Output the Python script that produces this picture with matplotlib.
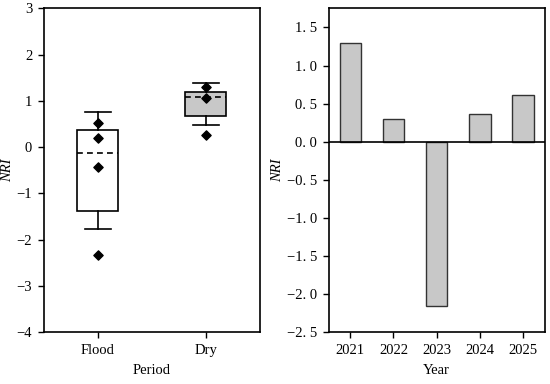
import numpy as np
import matplotlib
matplotlib.use("Agg")
import matplotlib.pyplot as plt
from matplotlib.ticker import FuncFormatter

plt.rcParams['font.family'] = ['Liberation Serif', 'DejaVu Serif']
plt.rcParams['font.size'] = 10.5
plt.rcParams['axes.unicode_minus'] = True

# left panel: box plot by period
periods = ['Flood', 'Dry']
box_q1 = [-1.38, 0.67]
box_q3 = [0.37, 1.19]
box_whislo = [-1.78, 0.47]
box_whishi = [0.76, 1.39]
box_mean = [-0.12, 1.08]
box_fill = ['white', '#c8c8c8']
points = {
    'Flood': [0.53, 0.19, -0.43, -2.33],
    'Dry': [1.30, 1.07, 0.26],
}

# right panel: NRI per year
years = ['2021', '2022', '2023', '2024', '2025']
nri = [1.30, 0.30, -2.155, 0.37, 0.62]

fig, (ax1, ax2) = plt.subplots(1, 2, figsize=(5.5, 3.84), dpi=100)
fig.subplots_adjust(left=0.08, right=0.99, top=0.978, bottom=0.135, wspace=0.32)

stats = []
for i, name in enumerate(periods):
    stats.append(dict(label=name, q1=box_q1[i], q3=box_q3[i], med=box_mean[i],
                      mean=box_mean[i], whislo=box_whislo[i], whishi=box_whishi[i],
                      fliers=[]))
pos = np.arange(1, len(periods) + 1)
bp = ax1.bxp(stats, positions=pos, widths=0.38, patch_artist=True,
             showmeans=True, meanline=True, showfliers=False,
             boxprops=dict(edgecolor='black', linewidth=1.2),
             whiskerprops=dict(color='black', linewidth=1.2),
             capprops=dict(color='black', linewidth=1.2),
             medianprops=dict(linewidth=0),
             meanprops=dict(color='black', linestyle=(0, (3.5, 2.5)), linewidth=1.2),
             capwidths=0.24)
for patch, c in zip(bp['boxes'], box_fill):
    patch.set_facecolor(c)
for p, name in zip(pos, periods):
    vals = points[name]
    ax1.scatter([p] * len(vals), vals, marker='D', s=22, color='black', zorder=5)

ax1.set_xlim(0.5, 2.5)
ax1.set_ylim(-4, 3)
ax1.set_yticks(range(-4, 4))
ax1.set_xticks(pos)
ax1.set_xticklabels(periods)
ax1.set_xlabel('Period', labelpad=5)
ax1.set_ylabel('NRI', style='italic', labelpad=2)
ax1.tick_params(direction='out', length=4, width=1, pad=4.5)

x = np.arange(len(years))
ax2.bar(x, nri, width=0.5, color='#c8c8c8', edgecolor='#333333', linewidth=1)
ax2.axhline(0, color='black', linewidth=1.2)
ax2.set_xlim(-0.5, len(years) - 0.5)
ax2.set_ylim(-2.5, 1.75)
ax2.set_yticks(np.arange(-2.5, 1.51, 0.5))
ax2.yaxis.set_major_formatter(FuncFormatter(lambda v, _: ('%.1f' % v).replace('-', '\u2212').replace('.', '. ')))
ax2.set_xticks(x)
ax2.set_xticklabels(years)
ax2.set_xlabel('Year', labelpad=5)
ax2.set_ylabel('NRI', style='italic', labelpad=2)
ax2.tick_params(direction='out', length=4, width=1, pad=4.5)

for ax in (ax1, ax2):
    for s in ax.spines.values():
        s.set_linewidth(1.2)

fig.savefig('out.png', dpi=100)
